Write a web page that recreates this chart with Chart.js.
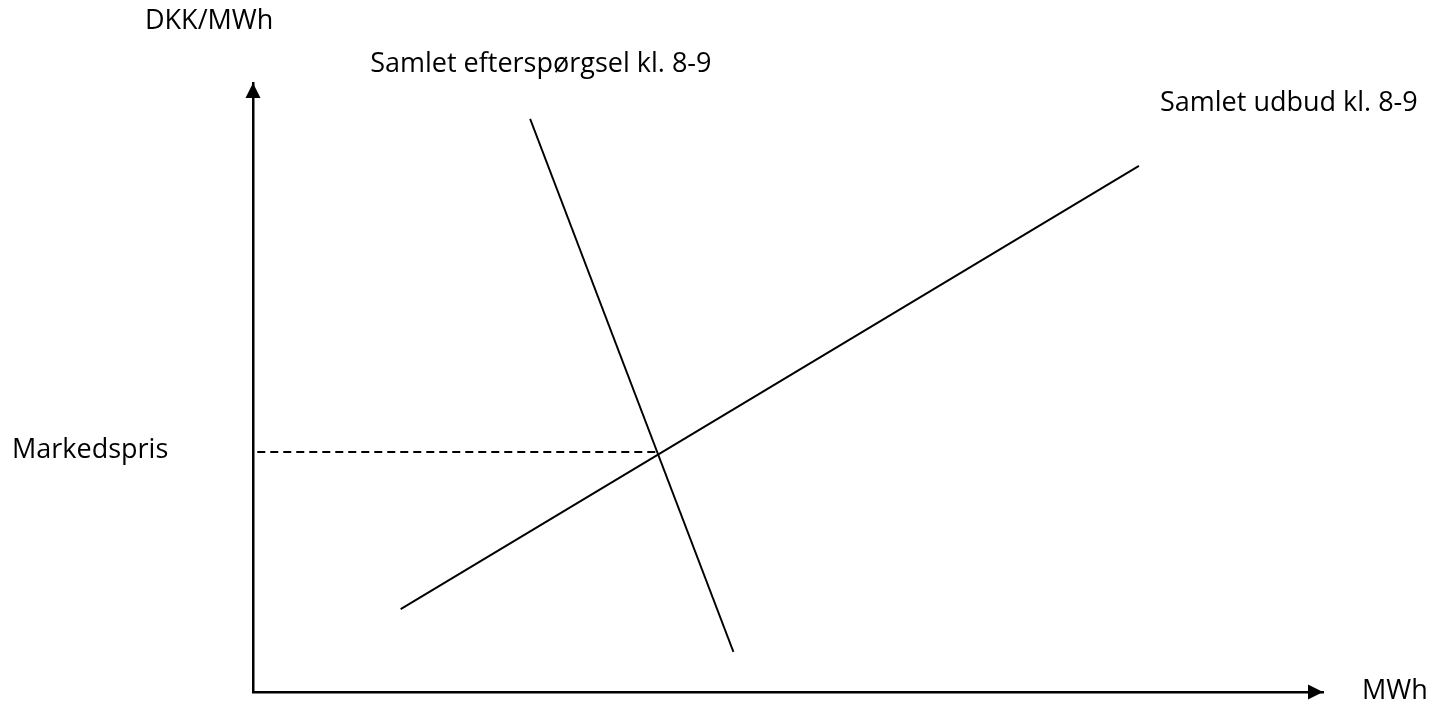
<!DOCTYPE html>
<html>
<head>
<meta charset="utf-8">
<script src="https://cdn.jsdelivr.net/npm/chart.js@4/dist/chart.umd.min.js"></script>
<style>
  html, body { margin: 0; padding: 0; background: #fff; }
  #wrap { width: 1438px; height: 703px; }
</style>
</head>
<body>
<div id="wrap"><canvas id="chart"></canvas></div>
<script>
// supply / demand curves (arbitrary units 0-100)
const supplyX = [13.8, 82.8];
const supplyY = [13.6, 86.4];
const demandX = [25.9, 44.9];
const demandY = [94.1, 6.6];
const marketX = [0.4, 37.9];
const marketPrice = 39.4;

const labels = {
  yTitle: 'DKK/MWh',
  xTitle: 'MWh',
  price: 'Markedspris',
  demand: 'Samlet efterspørgsel kl. 8-9',
  supply: 'Samlet udbud kl. 8-9'
};

const FONT = '27px "Open Sans", sans-serif';

function pts(xs, ys) {
  return xs.map((x, i) => ({ x: x, y: ys[i] }));
}

// arrows on the axes + the text labels
const annotate = {
  id: 'annotate',
  afterDraw(chart) {
    const ctx = chart.ctx;
    const a = chart.chartArea;
    const x = chart.scales.x, y = chart.scales.y;
    ctx.save();
    ctx.fillStyle = '#000';

    // y arrow
    ctx.beginPath();
    ctx.moveTo(a.left, a.top);
    ctx.lineTo(a.left - 7.5, a.top + 15);
    ctx.lineTo(a.left + 7.5, a.top + 15);
    ctx.closePath();
    ctx.fill();
    // x arrow
    ctx.beginPath();
    ctx.moveTo(a.right, a.bottom);
    ctx.lineTo(a.right - 15, a.bottom - 7.5);
    ctx.lineTo(a.right - 15, a.bottom + 7.5);
    ctx.closePath();
    ctx.fill();

    ctx.font = FONT;
    ctx.textBaseline = 'middle';
    ctx.textAlign = 'left';
    ctx.fillText(labels.yTitle, a.left - 108, 21);
    ctx.fillText(labels.xTitle, a.right + 39, a.bottom - 1);
    ctx.fillText(labels.price, 12, y.getPixelForValue(marketPrice) - 2);
    ctx.fillText(labels.demand, x.getPixelForValue(demandX[0]) - 160, y.getPixelForValue(demandY[0]) - 55);
    ctx.fillText(labels.supply, x.getPixelForValue(supplyX[1]) + 21, y.getPixelForValue(supplyY[1]) - 63);
    ctx.restore();
  }
};

const lineStyle = {
  borderColor: '#000',
  borderWidth: 1.9,
  pointRadius: 0,
  showLine: true,
  fill: false
};

new Chart(document.getElementById('chart'), {
  type: 'scatter',
  data: {
    datasets: [
      Object.assign({ label: 'Udbud', data: pts(supplyX, supplyY) }, lineStyle),
      Object.assign({ label: 'Efterspørgsel', data: pts(demandX, demandY) }, lineStyle),
      Object.assign({ label: 'Markedspris', data: pts(marketX, [marketPrice, marketPrice]), borderDash: [8, 5] }, lineStyle)
    ]
  },
  options: {
    responsive: true,
    maintainAspectRatio: false,
    animation: false,
    layout: { padding: { left: 245, right: 115, top: 83, bottom: 3 } },
    plugins: {
      legend: { display: false },
      tooltip: { enabled: false }
    },
    scales: {
      x: {
        type: 'linear', min: 0, max: 100,
        ticks: { display: false },
        grid: { display: false },
        border: { display: true, color: '#000', width: 2.5 }
      },
      y: {
        type: 'linear', min: 0, max: 100,
        ticks: { display: false },
        grid: { display: false },
        border: { display: true, color: '#000', width: 2.5 }
      }
    }
  },
  plugins: [annotate]
});
</script>
</body>
</html>
